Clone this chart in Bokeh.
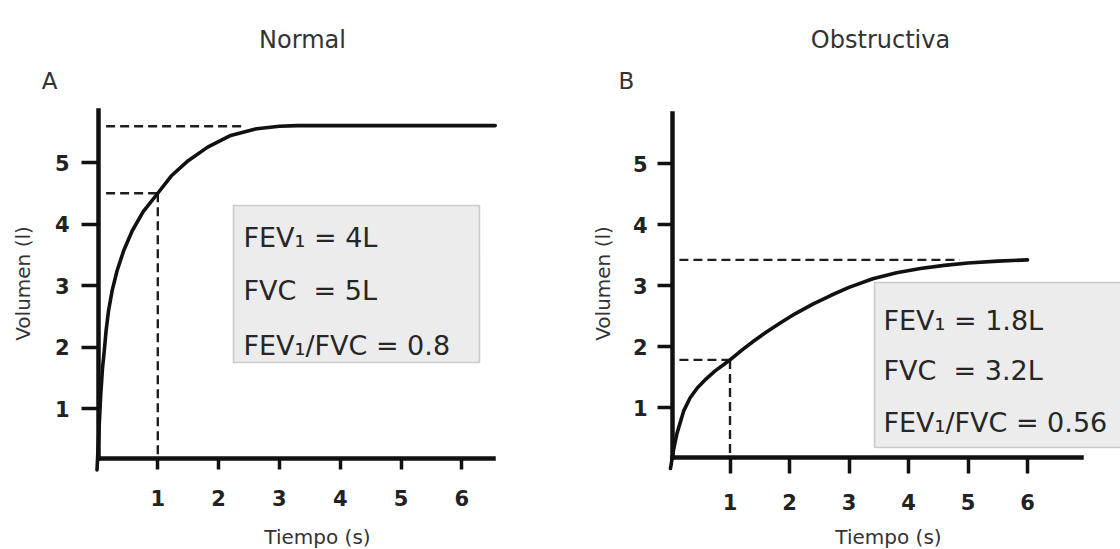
from math import pi

from bokeh.embed import file_html
from bokeh.layouts import row
from bokeh.models import BoxAnnotation, FixedTicker, Label, Range1d
from bokeh.plotting import figure
from bokeh.resources import INLINE

# ---------------- data ----------------
# Normal spirometry: volume (l) against time (s)
t_normal = [0.0, 0.03, 0.06, 0.09, 0.12, 0.15, 0.19, 0.25, 0.33, 0.44, 0.58, 0.76,
            1.0, 1.22, 1.5, 1.82, 2.2, 2.63, 3.0, 3.3, 6.55]
vol_normal = [0.0, 0.6, 1.2, 1.65, 1.94, 2.27, 2.59, 2.92, 3.24, 3.57, 3.89, 4.2,
              4.5, 4.78, 5.03, 5.25, 5.44, 5.55, 5.59, 5.6, 5.6]
fev1_normal = 4.5
fvc_normal = 5.59

# Obstructive spirometry
t_obst = [0.0, 0.05, 0.11, 0.22, 0.33, 0.45, 0.6, 0.75, 0.89, 1.0, 1.2, 1.4, 1.6,
          1.85, 2.1, 2.4, 2.7, 3.0, 3.4, 3.8, 4.2, 4.6, 5.0, 5.5, 6.0]
vol_obst = [0.0, 0.3, 0.58, 0.94, 1.16, 1.32, 1.47, 1.6, 1.7, 1.78, 1.94, 2.09, 2.23,
            2.39, 2.54, 2.7, 2.84, 2.97, 3.11, 3.21, 3.28, 3.33, 3.37, 3.4, 3.42]
fev1_obst = 1.78
fvc_obst = 3.42

fev1_time = 1.0
x_ticks = [1, 2, 3, 4, 5, 6]
y_ticks = [1, 2, 3, 4, 5]

titles = ["Normal", "Obstructiva"]
panel_letters = ["A", "B"]
x_title = "Tiempo (s)"
y_title = "Volumen (l)"
box_normal = ["FEV\u2081 = 4L", "FVC\u00a0 = 5L", "FEV\u2081/FVC = 0.8"]
box_obst = ["FEV\u2081 = 1.8L", "FVC\u00a0 = 3.2L", "FEV\u2081/FVC = 0.56"]

FONT = "DejaVu Sans"
INK = "#111111"
TEXT = "#333333"
DASH = "9 5"


def make_panel(cfg):
    """One spirometry panel; cfg holds its pixel geometry on the page."""
    ox, sx = cfg["x0"], cfg["sx"]        # page px of t=0 and px per second
    oy, sy = cfg["y0"], cfg["sy"]        # page px of v=0 and px per litre
    off = cfg["offset"]                  # left edge of this panel on the page
    W, H = 560, 549

    def dx(px):
        return (px - ox) / sx

    def dy(py):
        return (oy - py) / sy

    left, bottom = cfg["axis_x"], cfg["axis_y"]
    # the plotting area fills the whole panel; the axes sit at fixed places in it
    p = figure(width=W, height=H, output_backend="svg", toolbar_location=None,
               min_border_left=0, min_border_right=0,
               min_border_top=0, min_border_bottom=0,
               x_range=Range1d(dx(off), dx(off + W)),
               y_range=Range1d(dy(H), dy(0)))
    p.outline_line_color = None
    p.grid.visible = False
    p.background_fill_color = "white"
    p.border_fill_color = "white"

    xa, ya = p.xaxis[0], p.yaxis[0]
    for ax in (xa, ya):
        ax.axis_line_width = 4.5
        ax.axis_line_color = INK
        ax.axis_line_cap = "square"
        ax.major_tick_line_width = 3.5
        ax.major_tick_line_color = INK
        ax.major_tick_in = 0
        ax.minor_tick_line_color = None
        ax.major_label_text_font = FONT
        ax.major_label_text_font_style = "bold"
        ax.major_label_text_font_size = "21px"
        ax.major_label_text_color = "#222222"

    xa.fixed_location = dy(bottom)
    ya.fixed_location = dx(left)
    xa.ticker = FixedTicker(ticks=x_ticks)
    ya.ticker = FixedTicker(ticks=y_ticks)
    xa.bounds = (dx(left), dx(cfg["axis_x_end"]))
    ya.bounds = (dy(bottom), dy(cfg["axis_y_top"]))
    xa.major_tick_out = cfg["xtick"]
    ya.major_tick_out = cfg["ytick"]
    xa.major_label_standoff = 20
    ya.major_label_standoff = cfg["ystand"]

    # text box with the indices
    p.add_layout(BoxAnnotation(left=dx(cfg["box"][0]), right=dx(cfg["box"][1]),
                               top=dy(cfg["box"][2]), bottom=dy(cfg["box"][3]),
                               fill_color="#ececec", fill_alpha=1.0,
                               line_color="#6a6a6a", line_width=1.6,
                               level="underlay"))
    for txt, base in zip(cfg["lines"], cfg["line_base"]):
        p.add_layout(Label(x=dx(cfg["text_x"]), y=dy(base), text=txt,
                           text_font=FONT, text_font_size="27px",
                           text_color="#262626", text_align="left",
                           text_baseline="alphabetic"))

    # reference dashes for FEV1 and FVC
    dash_start = 0.15
    p.line([dash_start, cfg["fvc_end"]], [cfg["fvc"], cfg["fvc"]],
           line_dash=DASH, line_width=2.4, line_color="#1e1e1e")
    p.line([dash_start, fev1_time], [cfg["fev1"], cfg["fev1"]],
           line_dash=DASH, line_width=2.4, line_color="#1e1e1e")
    p.line([fev1_time, fev1_time], [cfg["fev1"], dy(bottom)],
           line_dash=DASH, line_width=2.4, line_color="#1e1e1e")

    # volume-time curve
    p.line(cfg["t"], cfg["v"], line_width=3.6, line_color=INK,
           line_join="round", line_cap="round")

    # titles and axis titles
    p.add_layout(Label(x=dx(cfg["title_x"]), y=dy(39), text=cfg["title"],
                       text_font=FONT, text_font_size="24px",
                       text_color=TEXT, text_align="center",
                       text_baseline="alphabetic"))
    p.add_layout(Label(x=dx(cfg["letter_x"]), y=dy(80), text=cfg["letter"],
                       text_font=FONT, text_font_size="23px",
                       text_color=TEXT, text_align="center",
                       text_baseline="alphabetic"))
    p.add_layout(Label(x=dx(cfg["xt_x"]), y=dy(536), text=x_title,
                       text_font=FONT, text_font_size="20px",
                       text_color=TEXT, text_align="center",
                       text_baseline="alphabetic"))
    p.add_layout(Label(x=dx(cfg["yt_x"]), y=dy(283), text=y_title, angle=pi / 2,
                       text_font=FONT, text_font_size="20px",
                       text_color=TEXT, text_align="center",
                       text_baseline="middle"))
    return p


normal_cfg = dict(offset=0, x0=96.5, sx=60.8, y0=469.5, sy=61.5,
                  axis_x=98, axis_y=458, axis_x_end=493, axis_y_top=110,
                  xtick=11, ytick=17, ystand=12,
                  box=(233, 479, 205, 362), text_x=243, line_base=(237, 290, 345),
                  lines=box_normal, t=t_normal, v=vol_normal,
                  fev1=fev1_normal, fvc=fvc_normal, fvc_end=2.4,
                  title=titles[0], title_x=302, letter=panel_letters[0], letter_x=49,
                  xt_x=317, yt_x=22)

obst_cfg = dict(offset=560, x0=670, sx=59.5, y0=468, sy=61,
                axis_x=672, axis_y=457, axis_x_end=1081, axis_y_top=113,
                xtick=16, ytick=15, ystand=10,
                box=(874, 1140, 282, 447), text_x=883, line_base=(320, 370, 422),
                lines=box_obst, t=t_obst, v=vol_obst,
                fev1=fev1_obst, fvc=fvc_obst, fvc_end=4.86,
                title=titles[1], title_x=880, letter=panel_letters[1], letter_x=626,
                xt_x=888, yt_x=602)

layout = row(make_panel(normal_cfg), make_panel(obst_cfg), spacing=0)

with open("out.html", "w") as f:
    f.write(file_html(layout, INLINE))
